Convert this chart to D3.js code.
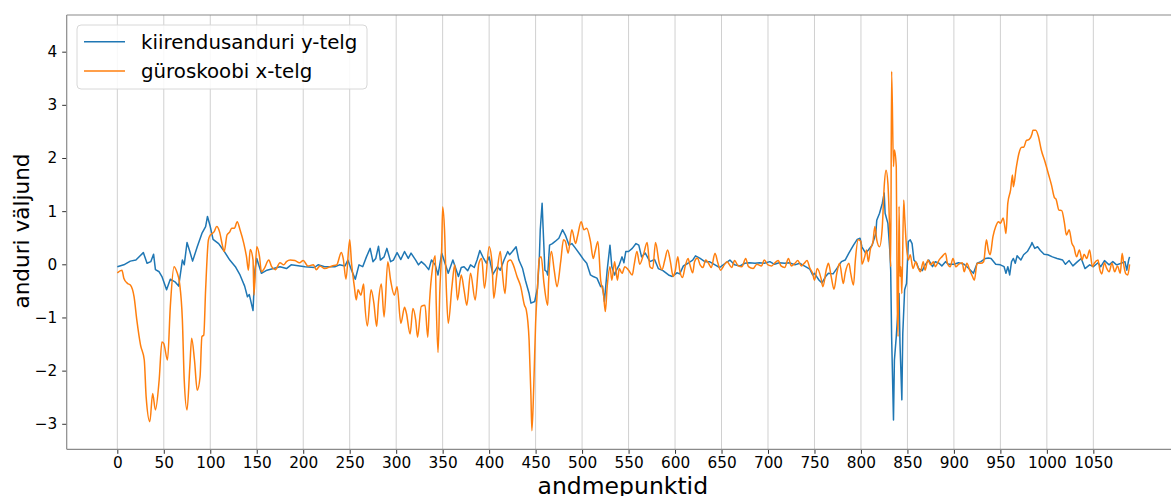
<!DOCTYPE html>
<html><head><meta charset="utf-8">
<script src="https://cdn.jsdelivr.net/npm/d3@7"></script>
<style>
html,body{margin:0;padding:0;background:#fff;overflow:hidden;}
svg{display:block;font-family:"DejaVu Sans",sans-serif;}
</style></head>
<body>
<svg id="chart" width="1171" height="496"></svg>
<script>
const seriesNames = ["kiirendusanduri y-telg", "güroskoobi x-telg"];
const xTicks = [0,50,100,150,200,250,300,350,400,450,500,550,600,650,700,750,800,850,900,950,1000,1050];
const yTicks = [-3,-2,-1,0,1,2,3,4];

const blueX = [0,7,14,20,28,32,36,39,41,45,48,53,57,62,66,70,72,75,78,81,86,91,95,97,100,103,109,114,121,127,132,137,140,142,146,148,150,155,161,168,175,182,187,202,212,216,223,234,239,245,248,252,256,260,264,268,272,275,278,281,283,287,290,294,297,301,305,309,313,316,321,324,327,331,335,338,342,345,349,352,356,361,367,370,373,377,380,384,387,390,394,397,400,404,409,412,416,420,422,425,429,432,436,439,443,445,449,452,454,455,457,458,460,462,463,465,468,471,475,479,482,486,489,493,498,502,505,509,512,516,520,522,524,527,530,532,535,537,540,543,545,547,550,554,558,561,564,568,573,578,582,587,593,597,602,605,609,614,619,622,627,632,637,643,648,654,659,664,670,675,680,686,691,696,702,707,712,718,723,729,734,739,745,748,750,755,758,762,765,770,774,779,783,787,792,796,799,801,805,808,812,816,817,820,823,825,826,829,831,832,833,835,836,838,841,842,844,845,847,849,851,853,855,857,860,862,866,869,873,877,880,884,887,891,894,900,905,911,916,921,925,929,934,937,940,945,950,954,956,958,960,962,964,966,968,972,975,979,983,984,987,990,993,997,1001,1006,1011,1017,1020,1024,1028,1033,1037,1041,1046,1050,1055,1058,1062,1067,1071,1075,1080,1084,1086,1088,1089];
const blueY = [-0.045,-0.01,0.06,0.08,0.22,0.02,0.05,0.19,-0.1,-0.14,-0.23,-0.48,-0.28,-0.33,-0.41,0.08,-0.01,0.41,0.24,0.06,0.33,0.58,0.71,0.9,0.71,0.47,0.39,0.27,0.08,-0.045,-0.2,-0.41,-0.61,-0.57,-0.87,-0.11,0.11,-0.17,-0.11,-0.08,-0.045,-0.08,-0.01,-0.045,-0.06,-0.01,-0.045,-0.045,-0.01,-0.03,0.08,-0.11,-0.28,-0.01,-0.045,0.14,0.3,0.05,0.11,0.34,0.08,0.14,0.3,0.05,0.08,0.22,0.09,0.24,0.11,0.21,0.08,-0.01,0.05,-0.01,-0.1,0.08,-0.01,-0.2,0.21,0.05,-0.17,0.08,-0.23,-0.06,-0.045,-0.12,-0.01,-0.06,0.08,0.26,0.11,0.02,0.14,-0.19,-0.045,-0.11,0.08,0.24,0.18,0.24,0.33,0.08,-0.08,-0.3,-0.55,-0.73,-0.7,-0.45,0.11,0.65,1.15,0.71,-0.11,-0.14,-0.2,0.36,0.39,0.43,0.49,0.65,0.55,0.36,0.39,0.3,0.18,0.08,0.02,-0.2,-0.23,-0.26,-0.42,-0.41,-0.7,-0.11,0.36,-0.045,-0.2,-0.11,-0.01,0.14,0.03,0.24,0.24,0.3,0.39,0.36,0.14,0.21,0.05,0.09,-0.08,-0.12,-0.2,-0.23,-0.16,-0.18,-0.03,0.02,0.08,0.16,0.11,0.05,0.05,-0.01,-0.06,0.02,0.08,-0.01,-0.03,0.02,0.03,0.02,0.03,0.02,0.05,0.0,0.03,0.02,0.03,-0.01,0.02,-0.03,-0.09,-0.2,-0.17,-0.3,-0.35,-0.23,-0.17,-0.18,-0.08,0.05,0.08,0.21,0.36,0.47,0.49,0.33,0.21,0.27,0.36,0.58,0.83,0.96,1.15,1.34,0.96,0.77,0.27,-0.11,-1.36,-2.93,-1.8,-1.36,-0.55,-1.49,-2.55,-1.3,-0.48,-0.36,0.43,0.46,0.39,0.08,0.02,-0.08,-0.12,-0.01,0.08,-0.045,0.05,0.02,-0.03,0.05,0.0,0.0,0.03,0.0,-0.08,-0.17,0.02,0.05,0.11,0.12,0.11,0.0,-0.01,-0.045,-0.17,-0.045,-0.2,0.05,0.11,0.02,0.16,0.08,0.18,0.24,0.36,0.41,0.3,0.33,0.26,0.19,0.18,0.14,0.11,0.08,0.0,0.07,-0.03,0.05,0.11,-0.08,-0.01,-0.045,0.03,-0.045,0.07,-0.01,0.05,-0.01,0.02,0.05,-0.11,0.08,0.14];

const orangeX = [0,5,7,11,14,18,21,25,29,31,35,38,41,45,48,50,54,57,61,64,67,70,72,75,78,80,83,86,89,91,93,95,98,100,104,107,110,113,115,118,121,123,126,129,132,136,139,141,143,146,147,150,153,155,158,163,166,170,175,179,182,186,191,196,200,205,211,214,218,223,231,236,241,243,246,250,252,255,257,259,262,265,266,269,273,276,279,281,284,287,291,294,298,301,305,309,311,315,318,321,323,327,331,334,336,339,342,343,345,347,349,350,352,354,356,360,363,366,370,373,376,380,385,389,392,395,400,403,405,408,412,414,417,420,423,426,430,434,438,440,443,445,446,448,450,452,454,456,459,463,464,467,470,473,477,480,482,485,489,493,495,499,502,505,509,512,514,517,520,523,525,527,530,532,535,538,540,543,546,550,554,556,559,562,566,570,573,576,579,583,586,589,592,595,598,600,603,605,608,611,614,616,619,621,624,627,630,633,636,639,643,646,649,653,656,661,664,668,672,676,679,684,688,693,696,700,704,707,711,714,718,722,725,729,732,736,739,742,745,748,750,753,757,759,763,765,768,771,774,777,781,783,787,789,792,794,797,800,801,804,806,808,810,813,815,817,820,823,825,827,829,831,832,833,835,836,838,839,840,841,842,843,844,846,847,849,851,853,856,859,861,864,867,869,872,875,878,880,884,887,891,893,896,899,902,905,909,911,914,917,920,922,925,929,932,935,937,939,942,945,948,950,953,955,956,958,961,963,964,967,970,973,975,978,981,984,985,988,991,994,998,1002,1005,1008,1010,1013,1016,1019,1021,1024,1027,1029,1032,1035,1038,1040,1043,1046,1049,1051,1055,1057,1059,1062,1064,1067,1070,1073,1076,1079,1081,1083,1085,1087,1089];
const orangeY = [-0.16,-0.11,-0.26,-0.36,-0.39,-0.61,-1.05,-1.52,-1.8,-2.49,-2.96,-2.43,-2.74,-2.18,-1.46,-1.49,-1.8,-0.8,-0.045,-0.14,-0.36,-1.05,-2.18,-2.74,-1.93,-1.39,-1.8,-2.37,-2.12,-1.36,-1.33,-0.48,0.46,0.55,0.61,0.71,0.61,0.36,0.24,0.55,0.61,0.68,0.68,0.8,0.65,0.4,0.14,-0.11,0.28,0.08,-0.58,0.33,0.14,-0.14,-0.08,0.08,-0.045,-0.1,0.03,-0.01,0.05,0.08,0.07,0.03,0.07,-0.03,-0.01,-0.1,-0.03,-0.08,-0.03,-0.01,0.22,0.11,-0.28,0.46,0.02,-0.42,-0.67,-0.48,-0.58,-0.37,-0.67,-1.16,-0.48,-0.73,-1.17,-0.7,-0.37,-0.99,0.05,-0.3,-0.58,-0.42,-1.11,-0.81,-0.92,-1.31,-0.83,-1.05,-1.37,-0.79,-0.77,-1.37,-0.67,-0.08,0.16,-0.67,-1.66,-0.48,0.33,1.08,0.65,-0.48,-1.11,-0.42,-0.01,-0.67,-0.2,-0.48,-0.77,-0.17,-0.67,0.02,0.11,-0.45,0.33,0.05,-0.64,-0.23,0.24,-0.11,-0.55,0.05,0.08,-0.01,-0.23,-0.42,-0.77,-0.86,-1.43,-2.49,-3.13,-2.3,-1.11,-0.45,0.11,0.14,-0.36,-0.77,-0.33,0.24,-0.11,-0.42,0.05,0.46,0.43,0.21,0.65,0.39,0.52,0.8,0.65,0.68,0.43,0.11,0.24,0.43,-0.3,-0.55,-0.89,-0.42,-0.045,-0.3,0.05,-0.3,-0.08,-0.17,-0.045,-0.11,-0.2,-0.01,0.24,0.0,0.18,0.41,-0.045,-0.08,0.41,0.02,-0.1,0.08,0.27,0.05,-0.23,-0.14,0.14,-0.11,-0.25,-0.03,0.11,-0.01,-0.16,0.05,0.12,-0.01,-0.06,0.08,0.02,-0.06,0.21,0.03,-0.11,-0.01,0.05,-0.06,0.07,-0.03,-0.045,0.11,-0.045,-0.08,0.0,-0.03,0.08,-0.01,-0.03,0.02,0.07,-0.03,-0.06,0.11,-0.03,0.02,0.07,-0.03,0.02,0.07,-0.07,-0.17,-0.3,-0.08,-0.26,-0.42,-0.08,0.02,-0.23,-0.47,-0.17,0.02,-0.36,-0.17,0.02,-0.17,-0.39,0.08,0.46,0.43,0.0,0.14,0.27,0.05,0.27,0.43,0.71,0.46,0.33,0.71,1.46,1.77,1.52,0.58,-0.045,3.63,1.84,2.15,1.84,-0.67,-1.36,1.09,-0.23,-0.045,-0.55,1.21,0.9,0.33,0.08,0.18,-0.08,0.05,-0.045,-0.14,0.05,-0.11,0.08,-0.01,0.05,-0.045,0.08,0.14,0.21,0.02,-0.045,0.11,-0.045,0.0,0.03,-0.14,0.02,-0.11,-0.23,-0.3,0.02,0.02,0.05,0.46,0.27,0.18,0.52,0.71,0.8,0.77,0.87,0.68,0.58,1.15,1.4,1.68,1.46,1.81,2.09,2.2,2.2,2.33,2.35,2.45,2.52,2.52,2.4,2.15,1.93,1.68,1.49,1.26,1.22,1.02,1.01,0.77,0.55,0.65,0.39,0.33,0.14,0.27,0.08,0.19,0.11,0.27,-0.045,0.02,0.08,-0.1,-0.18,0.03,-0.06,-0.14,0.02,-0.14,-0.03,-0.17,0.21,-0.045,-0.18,-0.2,0.0];

const colors = ["#1f77b4", "#ff7f0e"];

const svg = d3.select("#chart");
const pLeft = 66.7, pRight = 1180.2, pTop = 15, pBottom = 449.3;
const x = d3.scaleLinear().domain([-54.45, 1143.45]).range([pLeft, pRight]);
const y = d3.scaleLinear().domain([-3.48, 4.69]).range([pBottom, pTop]);

// grid (vertical only)
svg.append("g").selectAll("line").data(xTicks).join("line")
  .attr("x1", d => x(d)).attr("x2", d => x(d))
  .attr("y1", pTop).attr("y2", pBottom)
  .attr("stroke", "#d0d0d0").attr("stroke-width", 1);

const fmt = v => (v < 0 ? "\u2212" + Math.abs(v) : String(v));

// x axis
const gx = svg.append("g").attr("transform", `translate(0,${pBottom})`)
  .call(d3.axisBottom(x).tickValues(xTicks).tickFormat(fmt).tickSize(4.5).tickPadding(3.5));
gx.select(".domain").remove();
gx.selectAll("text").attr("font-size", 15.3).attr("fill", "#000").attr("font-family", "DejaVu Sans");
gx.selectAll("line").attr("stroke", "#333");

// y axis
const gy = svg.append("g").attr("transform", `translate(${pLeft},0)`)
  .call(d3.axisLeft(y).tickValues(yTicks).tickFormat(fmt).tickSize(4.5).tickPadding(5));
gy.select(".domain").remove();
gy.selectAll("text").attr("font-size", 15.3).attr("fill", "#000").attr("font-family", "DejaVu Sans");
gy.selectAll("line").attr("stroke", "#333");

// spines
svg.append("line").attr("x1", pLeft).attr("x2", pLeft).attr("y1", pTop).attr("y2", pBottom).attr("stroke", "#8a8a8a").attr("stroke-width", 1.2);
svg.append("line").attr("x1", pLeft).attr("x2", pRight).attr("y1", pTop).attr("y2", pTop).attr("stroke", "#8a8a8a").attr("stroke-width", 1.2);
svg.append("line").attr("x1", pLeft).attr("x2", pRight).attr("y1", pBottom).attr("y2", pBottom).attr("stroke", "#8a8a8a").attr("stroke-width", 1.2);

// lines
const blueData = blueX.map((d, i) => [d, blueY[i]]);
const orangeData = orangeX.map((d, i) => [d, orangeY[i]]);
const lineB = d3.line().x(d => x(d[0])).y(d => y(d[1]));
const lineO = d3.line().x(d => x(d[0])).y(d => y(d[1])).curve(d3.curveMonotoneX);
svg.append("path").datum(blueData).attr("d", lineB).attr("fill", "none")
  .attr("stroke", colors[0]).attr("stroke-width", 1.5).attr("stroke-linejoin", "round");
svg.append("path").datum(orangeData).attr("d", lineO).attr("fill", "none")
  .attr("stroke", colors[1]).attr("stroke-width", 1.5).attr("stroke-linejoin", "round");

// axis labels
svg.append("text").attr("x", 622.8).attr("y", 494).attr("text-anchor", "middle")
  .attr("font-size", 23.5).attr("fill", "#000").text("andmepunktid");
svg.append("text").attr("transform", `translate(29,231) rotate(-90)`)
  .attr("text-anchor", "middle").attr("font-size", 21.6).attr("fill", "#000").text("anduri väljund");

// legend
const lg = svg.append("g");
lg.append("rect").attr("x", 77).attr("y", 25).attr("width", 290).attr("height", 64).attr("rx", 4)
  .attr("fill", "#fff").attr("fill-opacity", 0.85).attr("stroke", "#d8d8d8");
seriesNames.forEach((name, i) => {
  const cy = 41.7 + i * 29.3;
  lg.append("line").attr("x1", 84).attr("x2", 125).attr("y1", cy).attr("y2", cy)
    .attr("stroke", colors[i]).attr("stroke-width", 1.5);
  lg.append("text").attr("x", 141).attr("y", cy).attr("dy", "0.35em")
    .attr("font-size", 19.8).attr("fill", "#000").text(name);
});
</script>
</body></html>
